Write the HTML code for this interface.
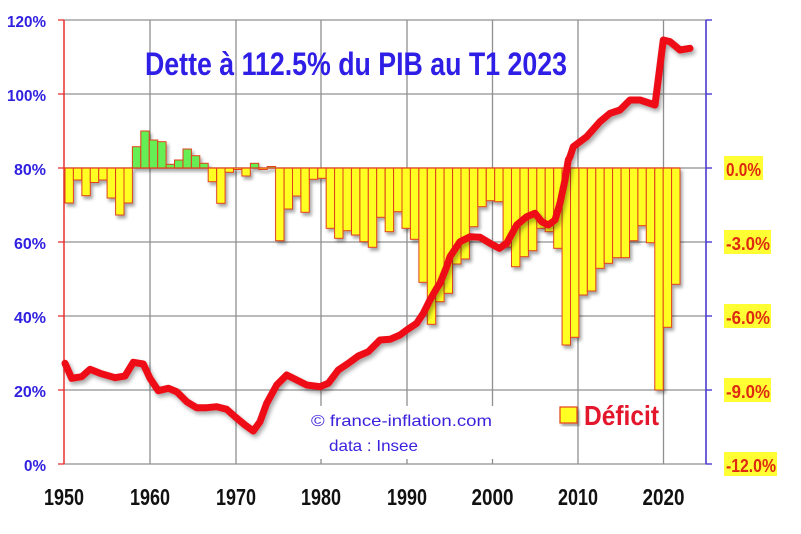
<!DOCTYPE html>
<html><head><meta charset="utf-8"><style>
html,body{margin:0;padding:0;background:#fff;}
svg{display:block;}
text{font-family:"Liberation Sans",sans-serif;font-weight:bold;}
</style></head><body>
<svg width="801" height="534" viewBox="0 0 801 534" xmlns="http://www.w3.org/2000/svg">
<defs>
<filter id="sh" x="-10%" y="-10%" width="130%" height="130%">
<feDropShadow dx="2" dy="3" stdDeviation="1.5" flood-color="#000" flood-opacity="0.35"/>
</filter>
<filter id="shl" x="-10%" y="-10%" width="130%" height="130%">
<feDropShadow dx="2" dy="3" stdDeviation="2" flood-color="#000" flood-opacity="0.35"/>
</filter>
</defs>
<rect width="801" height="534" fill="#fff"/>
<g stroke="#909090" stroke-width="1.3">
<line x1="64" y1="20" x2="706" y2="20"/>
<line x1="64" y1="94" x2="706" y2="94"/>
<line x1="64" y1="168" x2="706" y2="168"/>
<line x1="64" y1="242" x2="706" y2="242"/>
<line x1="64" y1="316" x2="706" y2="316"/>
<line x1="64" y1="390" x2="706" y2="390"/>
<line x1="64" y1="464" x2="706" y2="464"/>
<line x1="150" y1="20" x2="150" y2="464"/>
<line x1="236" y1="20" x2="236" y2="464"/>
<line x1="321" y1="20" x2="321" y2="464"/>
<line x1="407" y1="20" x2="407" y2="464"/>
<line x1="492.5" y1="20" x2="492.5" y2="464"/>
<line x1="578" y1="20" x2="578" y2="464"/>
<line x1="663.5" y1="20" x2="663.5" y2="464"/>
</g>
<rect x="304" y="406" width="198" height="53" fill="#fff"/>
<text x="311" y="426" font-size="16" style="font-weight:normal" fill="#3a22dd" textLength="181" lengthAdjust="spacingAndGlyphs">© france-inflation.com</text>
<text x="329" y="451" font-size="16" style="font-weight:normal" fill="#3a22dd" textLength="89" lengthAdjust="spacingAndGlyphs">data : Insee</text>
<line x1="64" y1="20" x2="64" y2="464" stroke="#e83030" stroke-width="1.5"/>
<g stroke="#e83030" stroke-width="1.3">
<line x1="58" y1="20" x2="64" y2="20"/><line x1="58" y1="94" x2="64" y2="94"/><line x1="58" y1="168" x2="64" y2="168"/><line x1="58" y1="242" x2="64" y2="242"/><line x1="58" y1="316" x2="64" y2="316"/><line x1="58" y1="390" x2="64" y2="390"/><line x1="58" y1="464" x2="64" y2="464"/>
</g>
<line x1="706" y1="20" x2="706" y2="464" stroke="#4a3ad0" stroke-width="1.6"/>
<g stroke="#4a3ad0" stroke-width="1.4">
<line x1="706" y1="20" x2="712" y2="20"/><line x1="706" y1="94" x2="712" y2="94"/><line x1="706" y1="168" x2="712" y2="168"/><line x1="706" y1="242" x2="712" y2="242"/><line x1="706" y1="316" x2="712" y2="316"/><line x1="706" y1="390" x2="712" y2="390"/><line x1="706" y1="464" x2="712" y2="464"/>
</g>
<g filter="url(#sh)" stroke="#e2401a" stroke-width="1">
<g fill="#ffff22">
<rect x="65.0" y="168" width="8.4" height="35"/>
<rect x="73.4" y="168" width="8.4" height="12"/>
<rect x="81.9" y="168" width="8.4" height="27.7"/>
<rect x="90.3" y="168" width="8.4" height="14.5"/>
<rect x="98.7" y="168" width="8.4" height="12"/>
<rect x="107.1" y="168" width="8.4" height="30"/>
<rect x="115.6" y="168" width="8.4" height="47"/>
<rect x="124.0" y="168" width="8.4" height="35"/>
<rect x="208.2" y="168" width="8.4" height="13.7"/>
<rect x="216.7" y="168" width="8.4" height="35.3"/>
<rect x="225.1" y="168" width="8.4" height="4.3"/>
<rect x="233.5" y="168" width="8.4" height="1.5"/>
<rect x="241.9" y="168" width="8.4" height="8"/>
<rect x="258.8" y="168" width="8.4" height="1.5"/>
<rect x="275.6" y="168" width="8.4" height="72.7"/>
<rect x="284.1" y="168" width="8.4" height="41"/>
<rect x="292.5" y="168" width="8.4" height="28"/>
<rect x="300.9" y="168" width="8.4" height="44.3"/>
<rect x="309.3" y="168" width="8.4" height="11.3"/>
<rect x="317.8" y="168" width="8.4" height="10.3"/>
<rect x="326.2" y="168" width="8.4" height="60.3"/>
<rect x="334.6" y="168" width="8.4" height="70.3"/>
<rect x="343.0" y="168" width="8.4" height="62.7"/>
<rect x="351.5" y="168" width="8.4" height="67"/>
<rect x="359.9" y="168" width="8.4" height="73.7"/>
<rect x="368.3" y="168" width="8.4" height="79.3"/>
<rect x="376.7" y="168" width="8.4" height="49.3"/>
<rect x="385.2" y="168" width="8.4" height="63.7"/>
<rect x="393.6" y="168" width="8.4" height="43.7"/>
<rect x="402.0" y="168" width="8.4" height="60.3"/>
<rect x="410.4" y="168" width="8.4" height="71.3"/>
<rect x="418.9" y="168" width="8.4" height="114.3"/>
<rect x="427.3" y="168" width="8.4" height="156.3"/>
<rect x="435.7" y="168" width="8.4" height="133.7"/>
<rect x="444.1" y="168" width="8.4" height="125.3"/>
<rect x="452.6" y="168" width="8.4" height="96"/>
<rect x="461.0" y="168" width="8.4" height="91"/>
<rect x="469.4" y="168" width="8.4" height="58.7"/>
<rect x="477.8" y="168" width="8.4" height="38.7"/>
<rect x="486.3" y="168" width="8.4" height="32.7"/>
<rect x="494.7" y="168" width="8.4" height="33.7"/>
<rect x="503.1" y="168" width="8.4" height="79"/>
<rect x="511.5" y="168" width="8.4" height="98.7"/>
<rect x="520.0" y="168" width="8.4" height="88.7"/>
<rect x="528.4" y="168" width="8.4" height="82.7"/>
<rect x="536.8" y="168" width="8.4" height="60.3"/>
<rect x="545.2" y="168" width="8.4" height="63.7"/>
<rect x="553.7" y="168" width="8.4" height="80.3"/>
<rect x="562.1" y="168" width="8.4" height="177"/>
<rect x="570.5" y="168" width="8.4" height="169.3"/>
<rect x="578.9" y="168" width="8.4" height="127"/>
<rect x="587.4" y="168" width="8.4" height="123"/>
<rect x="595.8" y="168" width="8.4" height="100.3"/>
<rect x="604.2" y="168" width="8.4" height="95.3"/>
<rect x="612.6" y="168" width="8.4" height="89.7"/>
<rect x="621.1" y="168" width="8.4" height="89.7"/>
<rect x="629.5" y="168" width="8.4" height="72.7"/>
<rect x="637.9" y="168" width="8.4" height="57.7"/>
<rect x="646.3" y="168" width="8.4" height="74.7"/>
<rect x="654.8" y="168" width="8.4" height="222"/>
<rect x="663.2" y="168" width="8.4" height="159.3"/>
<rect x="671.6" y="168" width="8.4" height="116.3"/>
</g>
<g fill="#66ee55">
<rect x="132.4" y="146.7" width="8.4" height="21.3"/>
<rect x="140.8" y="131" width="8.4" height="37"/>
<rect x="149.3" y="140" width="8.4" height="28"/>
<rect x="157.7" y="141.7" width="8.4" height="26.3"/>
<rect x="166.1" y="164.3" width="8.4" height="3.7"/>
<rect x="174.5" y="160" width="8.4" height="8"/>
<rect x="183.0" y="149" width="8.4" height="19"/>
<rect x="191.4" y="155.7" width="8.4" height="12.3"/>
<rect x="199.8" y="163.3" width="8.4" height="4.7"/>
<rect x="250.4" y="163.3" width="8.4" height="4.7"/>
<rect x="267.2" y="166.5" width="8.4" height="1.5"/>
</g>
</g>
<line x1="64" y1="168" x2="680" y2="168" stroke="#e2401a" stroke-width="1.3"/>
<polyline filter="url(#shl)" fill="none" stroke="#ee0a16" stroke-width="7" stroke-linejoin="round" stroke-linecap="round"
points="65,363.3 71.7,378.3 81.7,376.7 90,369.3 100,373.3 115,377.7 125,376 133.3,362.3 143.3,364 150,378.3 158.3,390.7 168.3,388.3 176.7,391.7 186.7,401.7 196.7,407.7 206.7,407.7 216.7,406.7 226.7,409.3 235,416.7 245,425 253.3,431 260,421.7 266.7,403.3 276.7,385 286.7,375 296.7,380 306.7,385 320,386.7 328.3,383.3 338.3,370 348.3,363.3 358.3,356 368.3,351.7 380,340 390,339.3 400,335 406.7,330 416.7,323.3 423.3,313.3 430,300 436.7,288.3 440,283.3 446.7,266.7 450,256.7 460,241.7 470,236.7 480,237.3 490,243.3 499.3,248.3 506.7,243.3 516.7,225 526.7,216.7 535,213.3 541.7,221.7 548.3,225 555,220 560,203.3 565,180 568.3,160 570,156.7 573.3,146.7 586.7,136.7 600,121.7 610,113.3 620,110 630,100 640,100 655,105 663.3,40 670,41.7 680,50 690,48.3"/>
<text x="145" y="75" font-size="32" fill="#2f1ee6" textLength="422" lengthAdjust="spacingAndGlyphs">Dette à 112.5% du PIB au T1 2023</text>
<g fill="#3020e0" font-size="16" text-anchor="end">
<text x="46" y="27" textLength="39" lengthAdjust="spacingAndGlyphs">120%</text>
<text x="46" y="101" textLength="39" lengthAdjust="spacingAndGlyphs">100%</text>
<text x="46" y="175" textLength="32" lengthAdjust="spacingAndGlyphs">80%</text>
<text x="46" y="249" textLength="32" lengthAdjust="spacingAndGlyphs">60%</text>
<text x="46" y="323" textLength="32" lengthAdjust="spacingAndGlyphs">40%</text>
<text x="46" y="397" textLength="32" lengthAdjust="spacingAndGlyphs">20%</text>
<text x="46" y="471" textLength="22" lengthAdjust="spacingAndGlyphs">0%</text>
</g>
<g fill="#111" font-size="23" text-anchor="middle">
<text x="64" y="505" textLength="40" lengthAdjust="spacingAndGlyphs">1950</text>
<text x="150" y="505" textLength="40" lengthAdjust="spacingAndGlyphs">1960</text>
<text x="236" y="505" textLength="40" lengthAdjust="spacingAndGlyphs">1970</text>
<text x="321" y="505" textLength="40" lengthAdjust="spacingAndGlyphs">1980</text>
<text x="407" y="505" textLength="40" lengthAdjust="spacingAndGlyphs">1990</text>
<text x="492.5" y="505" textLength="42" lengthAdjust="spacingAndGlyphs">2000</text>
<text x="578" y="505" textLength="40" lengthAdjust="spacingAndGlyphs">2010</text>
<text x="663.5" y="505" textLength="42" lengthAdjust="spacingAndGlyphs">2020</text>
</g>
<g fill="#ffff33">
<rect x="724" y="156" width="39" height="24"/>
<rect x="724" y="230" width="47" height="24"/>
<rect x="724" y="304" width="47" height="24"/>
<rect x="724" y="378" width="47" height="24"/>
<rect x="724" y="452" width="53" height="24"/>
</g>
<g fill="#dd2a10" font-size="18">
<text x="726" y="176" textLength="35" lengthAdjust="spacingAndGlyphs">0.0%</text>
<text x="726" y="250" textLength="44" lengthAdjust="spacingAndGlyphs">-3.0%</text>
<text x="726" y="324" textLength="44" lengthAdjust="spacingAndGlyphs">-6.0%</text>
<text x="726" y="398" textLength="44" lengthAdjust="spacingAndGlyphs">-9.0%</text>
<text x="726" y="472" textLength="50" lengthAdjust="spacingAndGlyphs">-12.0%</text>
</g>
<rect x="560" y="407" width="17" height="16" fill="#ffff22" stroke="#e2401a" stroke-width="1.2" filter="url(#sh)"/>
<text x="584" y="425" font-size="28" fill="#e3162b" textLength="75" lengthAdjust="spacingAndGlyphs">Déficit</text>
</svg>
</body></html>
